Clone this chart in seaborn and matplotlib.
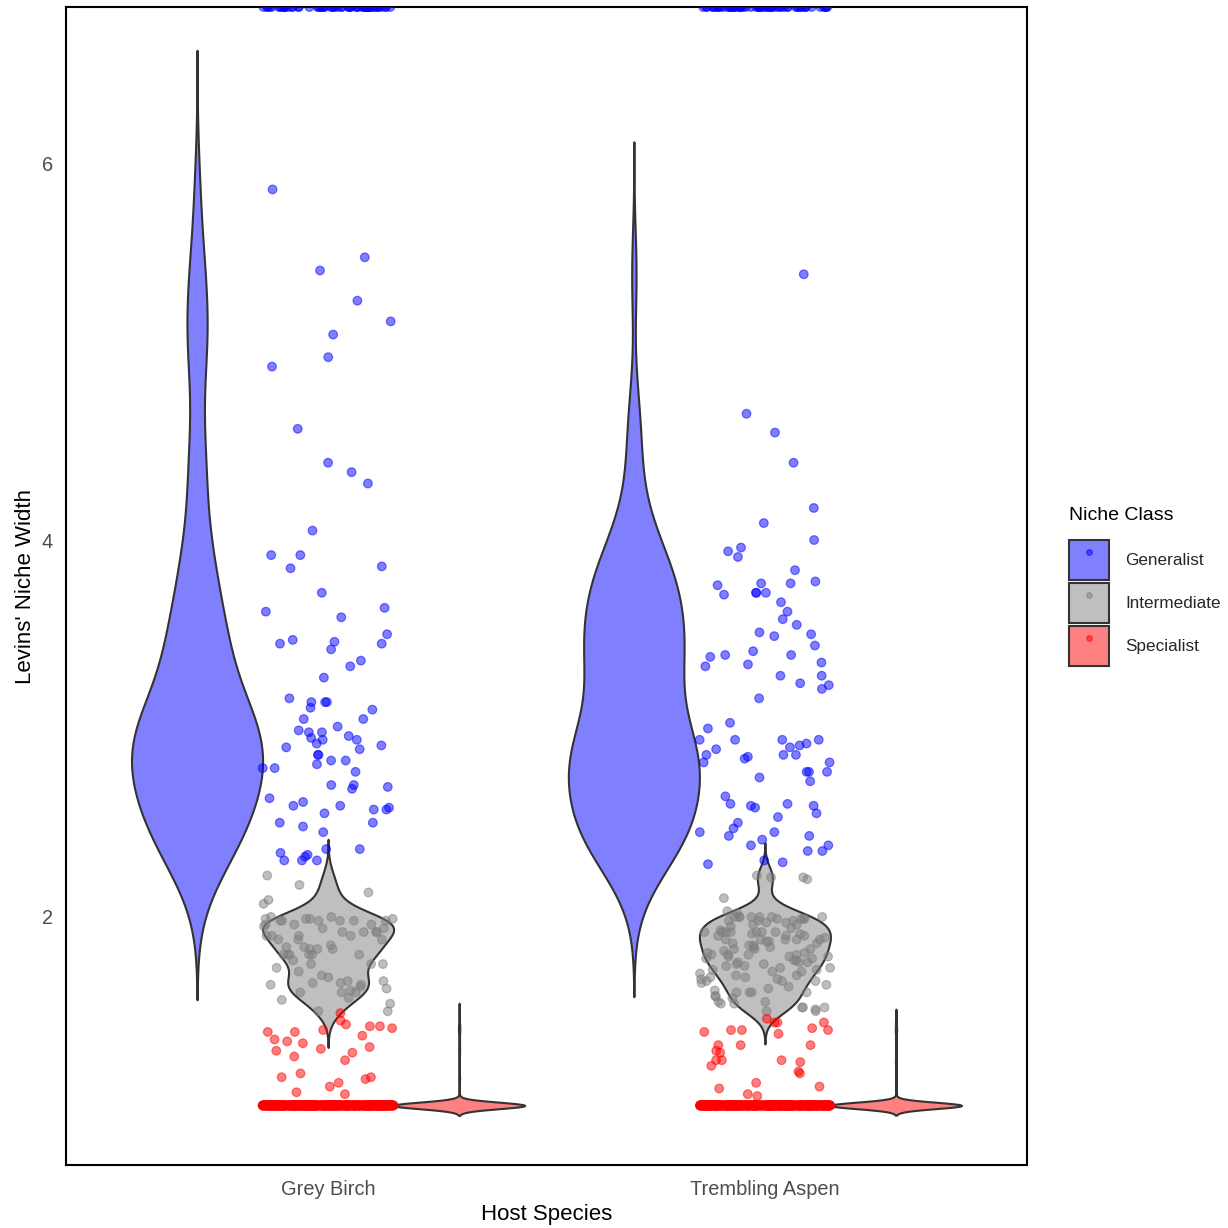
import numpy as np
import pandas as pd
import matplotlib
matplotlib.use("Agg")
import matplotlib.pyplot as plt
import seaborn as sns
from matplotlib.patches import Patch
from matplotlib.lines import Line2D
from matplotlib.legend_handler import HandlerTuple

# ---------------------------------------------------------------- data
hosts = ["Grey Birch", "Trembling Aspen"]
classes = ["Generalist", "Intermediate", "Specialist"]

# Levins' niche width (B) per taxon
gen_birch = [5.86, 5.50, 5.43, 5.27, 5.16, 5.09, 4.97, 4.92, 4.59, 4.41, 4.36, 4.30, 4.05,
             3.92, 3.92, 3.86, 3.85, 3.72, 3.64, 3.62, 3.59, 3.50, 3.47, 3.46, 3.45, 3.45,
             3.42, 3.36, 3.33, 3.27, 3.16, 3.14, 3.14, 3.14, 3.11, 3.10, 3.05, 3.05, 3.01,
             2.99, 2.98, 2.98, 2.96, 2.95, 2.94, 2.94, 2.92, 2.91, 2.90, 2.89, 2.86, 2.86,
             2.83, 2.83, 2.81, 2.79, 2.79, 2.77, 2.70, 2.70, 2.69, 2.68, 2.63, 2.61, 2.59,
             2.59, 2.58, 2.57, 2.57, 2.55, 2.50, 2.50, 2.48, 2.45, 2.36, 2.36, 2.34, 2.33,
             2.32, 2.30, 2.30, 2.30]
gen_aspen = [5.41, 4.67, 4.57, 4.41, 4.17, 4.09, 4.00, 3.96, 3.94, 3.91, 3.84, 3.78, 3.77,
             3.77, 3.76, 3.72, 3.72, 3.72, 3.71, 3.67, 3.62, 3.58, 3.55, 3.51, 3.50, 3.49,
             3.44, 3.41, 3.39, 3.39, 3.38, 3.35, 3.34, 3.33, 3.28, 3.28, 3.24, 3.23, 3.21,
             3.16, 3.03, 3.00, 2.94, 2.94, 2.94, 2.94, 2.92, 2.91, 2.90, 2.89, 2.86, 2.86,
             2.86, 2.85, 2.84, 2.82, 2.82, 2.77, 2.77, 2.77, 2.74, 2.72, 2.64, 2.60, 2.60,
             2.59, 2.59, 2.58, 2.55, 2.53, 2.50, 2.47, 2.45, 2.45, 2.43, 2.43, 2.41, 2.38,
             2.38, 2.35, 2.35, 2.30, 2.29, 2.28]
# generalist taxa whose niche width is undefined (infinite)
gen_inf_count = {"Grey Birch": 60, "Trembling Aspen": 60}

int_birch = [2.22, 2.17, 2.13, 2.09, 2.07,
             1.99, 2.00, 1.98, 1.99, 2.00, 1.98, 1.98, 1.98, 1.99, 1.98, 1.98, 1.99,
             1.96, 1.95, 1.96, 1.94, 1.94, 1.92, 1.92, 1.92, 1.92, 1.96,
             1.88, 1.90, 1.88, 1.88, 1.90, 1.90, 1.90,
             1.83, 1.83, 1.84, 1.85, 1.83, 1.84,
             1.80, 1.80, 1.80, 1.80, 1.80, 1.80, 1.75, 1.75, 1.73, 1.75, 1.77,
             1.69, 1.71, 1.68, 1.66, 1.65, 1.66, 1.65, 1.64, 1.64, 1.63,
             1.62, 1.60, 1.60, 1.61, 1.60, 1.57, 1.56, 1.54,
             1.50, 1.50]
int_aspen = [2.21, 2.22, 2.20, 2.21, 2.10, 2.02,
             1.99, 2.00, 1.99, 1.98, 2.03, 2.00, 1.99, 2.00, 1.98, 2.00, 1.98, 2.00,
             1.97, 2.00, 2.00, 1.97, 1.99,
             1.96, 1.93, 1.92, 1.91, 1.92, 1.92, 1.91, 1.92, 1.92, 1.94, 1.96, 1.95,
             1.92, 1.92,
             1.88, 1.86, 1.84, 1.83, 1.88, 1.88, 1.85, 1.88, 1.87, 1.88, 1.84, 1.89,
             1.90, 1.87, 1.90, 1.90, 1.85, 1.86,
             1.82, 1.79, 1.83, 1.79, 1.80, 1.80, 1.76, 1.80, 1.83, 1.81, 1.80, 1.76,
             1.78, 1.77, 1.74, 1.79, 1.81, 1.78, 1.77, 1.75,
             1.76, 1.75, 1.74, 1.72, 1.73, 1.72, 1.71, 1.71, 1.70, 1.73, 1.69,
             1.68, 1.64, 1.69, 1.66, 1.63, 1.67, 1.66, 1.67, 1.66, 1.65, 1.68, 1.62,
             1.60, 1.60, 1.60, 1.60, 1.58, 1.55, 1.52, 1.54, 1.52, 1.54, 1.51, 1.50,
             1.58, 1.52, 1.50, 1.55, 1.61, 1.57]

spec_birch = [1.49, 1.39, 1.41, 1.42, 1.43, 1.37, 1.34, 1.33, 1.39, 1.45, 1.35, 1.42,
              1.40, 1.30, 1.29, 1.28, 1.31, 1.24, 1.26, 1.14, 1.15, 1.15, 1.12, 1.17,
              1.10, 1.06, 1.07]
spec_aspen = [1.46, 1.44, 1.41, 1.40, 1.39, 1.44, 1.44, 1.40, 1.38, 1.40, 1.32, 1.32,
              1.32, 1.28, 1.29, 1.24, 1.23, 1.24, 1.21, 1.24, 1.17, 1.18, 1.12, 1.10,
              1.09, 1.05, 1.06]
# specialist taxa found in a single sample (B = 1)
spec_one_count = {"Grey Birch": 520, "Trembling Aspen": 520}

values = {
    ("Grey Birch", "Generalist"): gen_birch + [np.inf] * gen_inf_count["Grey Birch"],
    ("Trembling Aspen", "Generalist"): gen_aspen + [np.inf] * gen_inf_count["Trembling Aspen"],
    ("Grey Birch", "Intermediate"): int_birch,
    ("Trembling Aspen", "Intermediate"): int_aspen,
    ("Grey Birch", "Specialist"): spec_birch + [1.0] * spec_one_count["Grey Birch"],
    ("Trembling Aspen", "Specialist"): spec_aspen + [1.0] * spec_one_count["Trembling Aspen"],
}
df = pd.concat(
    [pd.DataFrame({"host": h, "niche": c, "width": v}) for (h, c), v in values.items()],
    ignore_index=True,
)

# ---------------------------------------------------------------- style
fill_colors = {"Generalist": "#8080FF", "Intermediate": "#BFBFBF", "Specialist": "#FF8080"}
point_colors = {"Generalist": "#0000FF", "Intermediate": "#7F7F7F", "Specialist": "#FF0000"}
Y_LIM = (0.684, 6.828)

sns.set_style("white")
plt.rcParams["font.family"] = ["Liberation Sans", "DejaVu Sans"]


def nrd0(kde):
    """Silverman's rule of thumb (R's bw.nrd0) expressed as a scipy factor."""
    x = np.asarray(kde.dataset).ravel()
    sd = x.std(ddof=1)
    q75, q25 = np.percentile(x, [75, 25])
    lo = min(sd, (q75 - q25) / 1.34) or sd
    return 0.9 * lo * len(x) ** -0.2 / sd


fig = plt.figure(figsize=(12.28, 12.28), dpi=100)
ax = fig.add_axes([66 / 1228, 1 - 1165 / 1228, 961 / 1228, 1158 / 1228])

finite = df[np.isfinite(df["width"])]
sns.violinplot(
    data=finite, x="host", y="width", hue="niche", order=hosts, hue_order=classes,
    palette=fill_colors, saturation=1, density_norm="width", cut=3, bw_method=nrd0,
    gridsize=512, inner=None, linewidth=1.5, linecolor="#333333", width=0.9, gap=0,
    legend=False, ax=ax,
)

# infinite widths sit on the upper edge of the panel
pts = df.copy()
pts["width"] = np.minimum(pts["width"], Y_LIM[1])
n_before = len(ax.collections)
np.random.seed(7)
sns.stripplot(
    data=pts, x="host", y="width", hue="niche", order=hosts, hue_order=classes,
    palette=point_colors, alpha=0.5, jitter=0.15, dodge=False, size=6.2,
    linewidth=0.9, legend=False, ax=ax,
)
for coll in ax.collections[n_before:]:
    coll.set_edgecolor(coll.get_facecolors())

ax.set_xlim(-0.6, 1.6)
ax.set_ylim(*Y_LIM)
ax.set_yticks([2, 4, 6])
ax.tick_params(axis="both", length=0, labelsize=14.4, labelcolor="#4D4D4D")
ax.tick_params(axis="y", pad=9.5)
ax.tick_params(axis="x", pad=11)
ax.set_xlabel("Host Species", fontsize=16, color="black", labelpad=3.5)
ax.set_ylabel("Levins' Niche Width", fontsize=16, color="black", labelpad=4)
for sp in ax.spines.values():
    sp.set_visible(True)
    sp.set_color("black")
    sp.set_linewidth(1.5)
ax.grid(False)

# legend: title text plus overlaid fill / point keys
fig.text(1069 / 1228, 1 - 516 / 1228, "Niche Class", fontsize=14, color="black",
         ha="left", va="center")
handles = [
    (Patch(facecolor=fill_colors[c], edgecolor="#333333", linewidth=1.5),
     Line2D([], [], marker="o", linestyle="", markersize=4, color=point_colors[c], alpha=0.5))
    for c in classes
]
leg = ax.legend(
    handles, classes, handler_map={tuple: HandlerTuple(ndivide=1, pad=0)},
    loc="upper left", bbox_to_anchor=(1069 / 1228, 1 - 540 / 1228),
    bbox_transform=fig.transFigure, frameon=False, fontsize=12.3,
    handlelength=2.34, handleheight=3.22, labelspacing=0.18, handletextpad=0.94,
    borderpad=0, borderaxespad=0,
)

fig.savefig("out.png", dpi=100, facecolor="white")
